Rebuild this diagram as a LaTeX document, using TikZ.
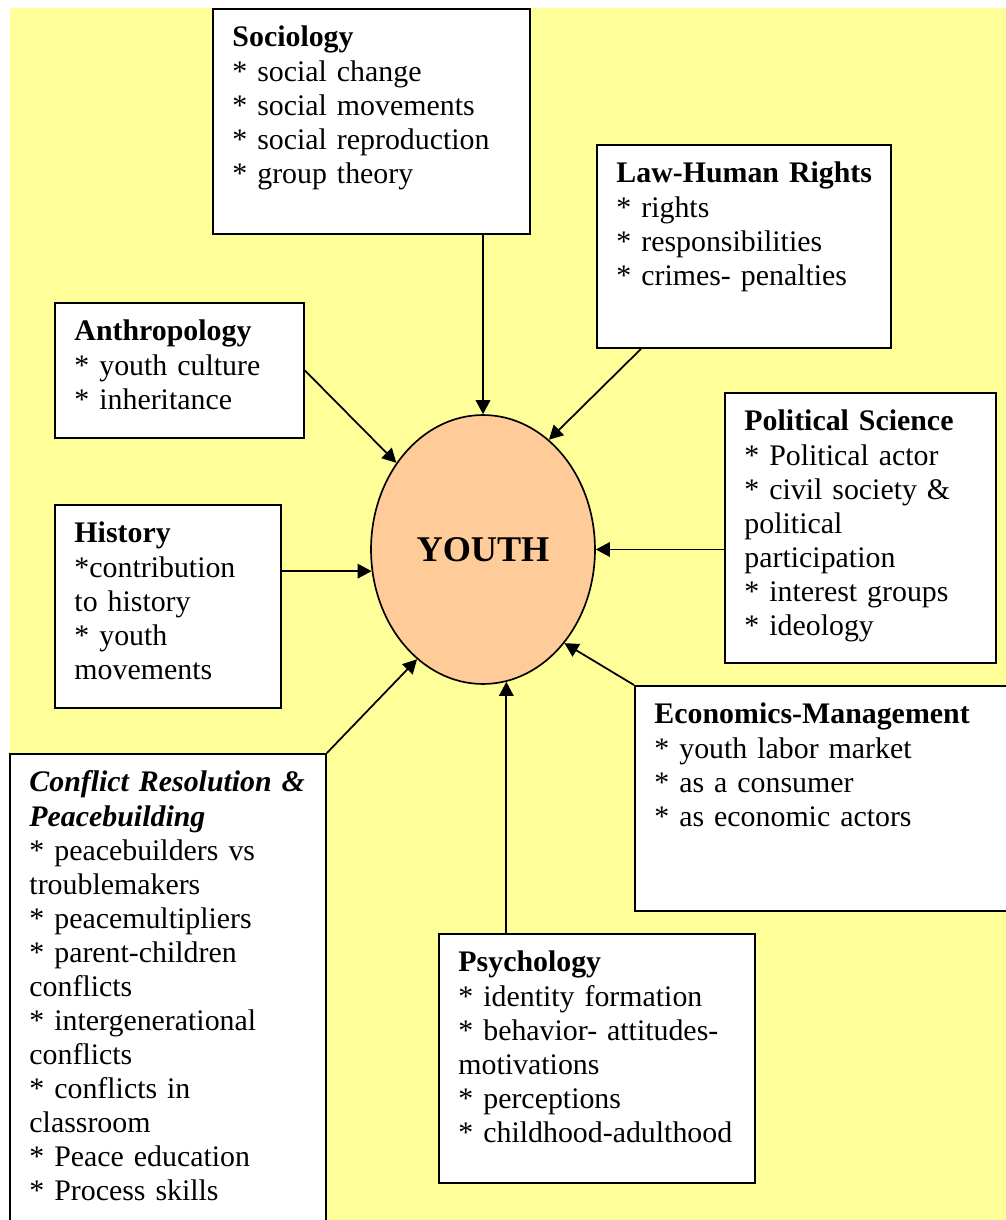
\documentclass[tikz,border=0pt]{standalone}
\usepackage{fontspec}
\setmainfont{Liberation Serif}
\usetikzlibrary{arrows.meta,shapes.geometric}
\definecolor{pageBg}{RGB}{255,255,153}
\definecolor{youthFill}{RGB}{255,204,153}

\begin{document}
\begin{tikzpicture}[
  x=0.02cm, y=-0.02cm,
  font=\fontsize{17}{19.4}\selectfont,
  field/.style={draw=black, line width=1.1pt, fill=white, anchor=north west, align=left,
                inner xsep=0.04cm, inner ysep=0pt, text height=0.76cm,
                execute at begin node={\leftskip=0.35cm}},
  core/.style ={draw=black, line width=0.95pt, fill=youthFill, ellipse, inner sep=0pt,
                minimum width=4.48cm, minimum height=5.38cm,
                font=\fontsize{20.6}{24}\selectfont\bfseries},
  flow/.style ={-{Triangle[length=0.28cm,width=0.29cm]}, line width=1pt, draw=black},
]
\useasboundingbox (0,0) rectangle (1006,1220);
\clip (0,0) rectangle (1006,1220);

% ============ PAGE ============
\fill[white] (0,0) rectangle (1006,1220);
\fill[pageBg] (10,8) rectangle (1006,1220);

% ============ CENTRE ============
\node[core] (youth) at (483,549.5) {YOUTH};

% ============ DISCIPLINES ============
\node[field, text width=6.26cm, text depth=3.74cm] (soc) at (212,8)
  {\textbf{Sociology}\\ {*} social change\\ {*} social movements\\
   {*} social reproduction\\ {*} group theory};

\node[field, text width=5.80cm, text depth=3.30cm] (law) at (596,144)
  {\textbf{Law-Human Rights}\\ {*} rights\\ {*} responsibilities\\ {*} crimes- penalties};

\node[field, text width=4.90cm, text depth=1.94cm] (anth) at (54,302)
  {\textbf{Anthropology}\\ {*} youth culture\\ {*} inheritance};

\node[field, text width=5.34cm, text depth=4.64cm] (pol) at (724,392)
  {\textbf{Political Science}\\ {*} Political actor\\ {*} civil society \&\\
   political\\ participation\\ {*} interest groups\\ {*} ideology};

\node[field, text width=4.44cm, text depth=3.30cm] (hist) at (54,504)
  {\textbf{History}\\ {*}contribution\\ to history\\ {*} youth\\ movements};

\node[field, text width=7.52cm, text depth=3.74cm] (econ) at (634,685)
  {\textbf{Economics-Management}\\ {*} youth labor market\\ {*} as a consumer\\
   {*} as economic actors};

\node[field, text width=6.24cm, text depth=8.84cm] (conf) at (9,753)
  {\textbf{\textit{Conflict Resolution \&}}\\ \textbf{\textit{Peacebuilding}}\\
   {*} peacebuilders vs\\ troublemakers\\ {*} peacemultipliers\\
   {*} parent-children\\ conflicts\\ {*} intergenerational\\ conflicts\\
   {*} conflicts in\\ classroom\\ {*} Peace education\\ {*} Process skills};

\node[field, text width=6.24cm, text depth=4.22cm] (psy) at (438,933)
  {\textbf{Psychology}\\ {*} identity formation\\ {*} behavior- attitudes-\\
   motivations\\ {*} perceptions\\ {*} childhood-adulthood};

% ============ LINKS ============
\draw[flow] (soc.south -| youth.north) -- (youth.north);
\draw[flow] ([xshift=0.9cm]law.south west) -- (youth.59);
\draw[flow] (anth.east) -- (youth.135);
\draw[flow] (hist.east |- youth.191) -- (youth.191);
\draw[flow] (pol.west |- youth.east) -- (youth.east);
\draw[flow] (econ.north west) -- (youth.311);
\draw[flow] (conf.north east) -- (youth.239);
\draw[flow] (psy.north -| youth.280) -- (youth.280);

\end{tikzpicture}
\end{document}
